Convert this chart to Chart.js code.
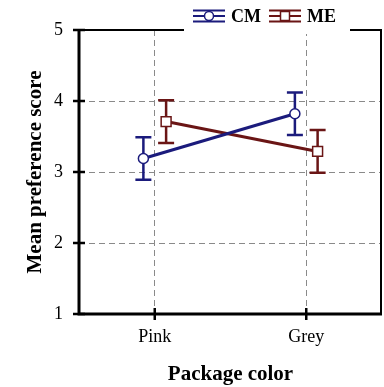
<!DOCTYPE html>
<html>
<head>
<meta charset="utf-8">
<script src="https://cdn.jsdelivr.net/npm/chart.js@4"></script>
<style>
  body { margin: 0; background: #fff; }
  #box { width: 384px; height: 387px; }
</style>
</head>
<body>
<div id="box"><canvas id="myChart"></canvas></div>
<script>
const categories = ['Pink', 'Grey'];
const seriesNames = ['CM', 'ME'];
const cmMeans = [3.19, 3.82];
const meMeans = [3.71, 3.29];
const cmErrors = [0.30, 0.30];
const meErrors = [0.30, 0.30];
const yTicks = [1, 2, 3, 4, 5];

const serif = "'Liberation Serif', 'Times New Roman', serif";
const cmColor = '#1b1b7c';
const meColor = '#6a1515';
const dodge = 0.075;

function points(means, shift) {
    return means.map((m, i) => ({ x: i + shift, y: m }));
}

// error bars, frame, crossing ticks and legend
const extras = {
    id: 'extras',
    beforeDatasetsDraw(chart) {
        const c = chart.ctx;
        const xs = chart.scales.x, ys = chart.scales.y;
        chart.data.datasets.forEach(ds => {
            c.save();
            c.strokeStyle = ds.borderColor;
            c.lineWidth = 2.5;
            ds.data.forEach((p, i) => {
                const x = xs.getPixelForValue(p.x);
                const top = ys.getPixelForValue(p.y + ds.errors[i]);
                const bot = ys.getPixelForValue(p.y - ds.errors[i]);
                c.beginPath();
                c.moveTo(x, top); c.lineTo(x, bot);
                c.moveTo(x - 8, top); c.lineTo(x + 8, top);
                c.moveTo(x - 8, bot); c.lineTo(x + 8, bot);
                c.stroke();
            });
            c.restore();
        });
    },
    afterDraw(chart) {
        const c = chart.ctx;
        const a = chart.chartArea;
        const xs = chart.scales.x, ys = chart.scales.y;
        c.save();
        c.strokeStyle = '#000';
        // top and right
        c.lineWidth = 2;
        c.beginPath();
        c.moveTo(a.left, a.top); c.lineTo(a.right - 1, a.top); c.lineTo(a.right - 1, a.bottom);
        c.stroke();
        // left and bottom
        c.lineWidth = 3;
        c.beginPath();
        c.moveTo(a.left, a.top); c.lineTo(a.left, a.bottom); c.lineTo(a.right, a.bottom);
        c.stroke();
        // ticks crossing axes
        c.lineWidth = 2.5;
        c.beginPath();
        yTicks.forEach(v => {
            const y = ys.getPixelForValue(v);
            c.moveTo(a.left - 6, y); c.lineTo(a.left + 6, y);
        });
        categories.forEach((_, i) => {
            const x = xs.getPixelForValue(i);
            c.moveTo(x, a.bottom - 6); c.lineTo(x, a.bottom + 6);
        });
        c.stroke();

        // legend
        c.fillStyle = '#fff';
        c.fillRect(184, 0, 166, 34);
        const items = [
            { x: 193, color: cmColor, style: 'circle', label: seriesNames[0] },
            { x: 269, color: meColor, style: 'rect', label: seriesNames[1] }
        ];
        const cy = 16;
        c.font = 'bold 18px ' + serif;
        c.textBaseline = 'middle';
        items.forEach(it => {
            c.strokeStyle = it.color;
            c.lineWidth = 2;
            c.beginPath();
            c.moveTo(it.x, cy - 5.5); c.lineTo(it.x + 32, cy - 5.5);
            c.moveTo(it.x, cy); c.lineTo(it.x + 32, cy);
            c.moveTo(it.x, cy + 5.5); c.lineTo(it.x + 32, cy + 5.5);
            c.moveTo(it.x + 16, cy - 5.5); c.lineTo(it.x + 16, cy + 5.5);
            c.stroke();
            c.fillStyle = '#fff';
            c.lineWidth = 1.5;
            c.beginPath();
            if (it.style === 'circle') c.arc(it.x + 16, cy, 4.5, 0, Math.PI * 2);
            else c.rect(it.x + 11.5, cy - 4.5, 9, 9);
            c.fill(); c.stroke();
            c.fillStyle = '#000';
            c.fillText(it.label, it.x + 38, cy + 1);
        });
        c.restore();
    }
};

new Chart(document.getElementById('myChart'), {
    type: 'line',
    data: {
        datasets: [
            {
                label: seriesNames[0],
                data: points(cmMeans, -dodge),
                errors: cmErrors,
                borderColor: cmColor,
                borderWidth: 3,
                pointStyle: 'circle',
                pointRadius: 5,
                pointBorderWidth: 1.5,
                pointBackgroundColor: '#fff',
                pointBorderColor: cmColor
            },
            {
                label: seriesNames[1],
                data: points(meMeans, dodge),
                errors: meErrors,
                borderColor: meColor,
                borderWidth: 3,
                pointStyle: 'rect',
                pointRadius: 7,
                pointBorderWidth: 1.5,
                pointBackgroundColor: '#fff',
                pointBorderColor: meColor
            }
        ]
    },
    options: {
        responsive: true,
        maintainAspectRatio: false,
        animation: false,
        layout: { autoPadding: false, padding: { top: 30, right: 2, left: 0, bottom: 0 } },
        plugins: { legend: { display: false }, tooltip: { enabled: false } },
        scales: {
            x: {
                type: 'linear',
                min: -0.5,
                max: 1.5,
                afterBuildTicks: s => { s.ticks = categories.map((_, i) => ({ value: i })); },
                afterFit: s => { s.height = 73; s.paddingLeft = 0; s.paddingRight = 0; },
                ticks: {
                    callback: v => categories[v],
                    color: '#000',
                    padding: 12,
                    font: { family: serif, size: 18 }
                },
                grid: { color: '#8a8a8a', lineWidth: 1, drawTicks: false },
                border: { display: false, dash: [6, 4] },
                title: {
                    display: true,
                    text: 'Package color',
                    color: '#000',
                    padding: { top: 11, bottom: 0 },
                    font: { family: serif, size: 21, weight: 'bold' }
                }
            },
            y: {
                min: 1,
                max: 5,
                afterBuildTicks: s => { s.ticks = yTicks.map(v => ({ value: v })); },
                afterFit: s => { s.width = 79; s.paddingTop = 0; s.paddingBottom = 0; },
                ticks: {
                    color: '#000',
                    padding: 16,
                    font: { family: serif, size: 18 }
                },
                grid: {
                    color: ctx => (ctx.tick && (ctx.tick.value === 1 || ctx.tick.value === 5)) ? 'rgba(0,0,0,0)' : '#8a8a8a',
                    lineWidth: 1,
                    drawTicks: false
                },
                border: { display: false, dash: [6, 4] },
                title: {
                    display: true,
                    text: 'Mean preference score',
                    color: '#000',
                    padding: { top: 23, bottom: 0 },
                    font: { family: serif, size: 21, weight: 'bold' }
                }
            }
        }
    },
    plugins: [extras]
});
</script>
</body>
</html>
